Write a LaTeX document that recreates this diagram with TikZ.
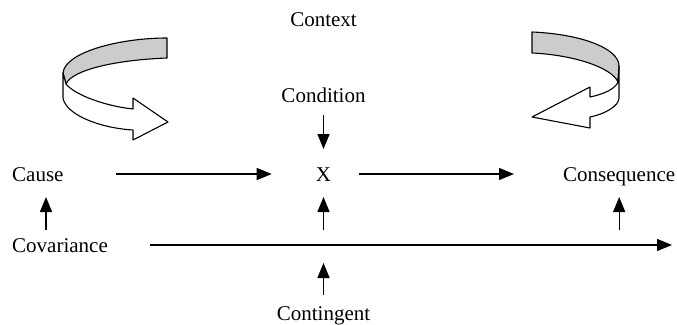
\documentclass[tikz,border=0pt]{standalone}
\usepackage{fontspec}
\setmainfont{Liberation Serif}
\usetikzlibrary{arrows.meta}
\definecolor{ribbon}{RGB}{204,204,204}
\begin{document}
\begin{tikzpicture}[x=1pt,y=-1pt,
  lbl/.style={font=\fontsize{21}{25}\selectfont, inner sep=0pt, anchor=base, text height=14pt, text depth=0pt},
  arr/.style={line width=1.3pt, -{Triangle[length=15pt,width=12pt]}},
  rib/.style={line width=1.1pt, line join=round}]
\useasboundingbox (0,0) rectangle (677,324);

% left curled arrow
\filldraw[rib, fill=ribbon] (167,38) -- (167,58) .. controls (115,60) and (72,70) .. (66,84) -- (63,73) .. controls (65,52) and (120,38) .. (167,38) -- cycle;
\filldraw[rib, fill=white] (66,84) .. controls (75,95) and (105,106) .. (133,109) -- (133,98) -- (168,122) -- (133,140) -- (133,130) .. controls (100,128) and (66,115) .. (63,98) -- (63,73) -- cycle;

% right curled arrow
\filldraw[rib, fill=ribbon] (532,32) -- (532,53) .. controls (575,55) and (612,68) .. (618,82) -- (619,66) .. controls (619,48) and (580,34) .. (532,32) -- cycle;
\filldraw[rib, fill=white] (618,82) .. controls (615,90) and (600,95) .. (590,97) -- (590,87) -- (532,117) -- (590,128) -- (590,117) .. controls (605,114) and (619,106) .. (619,98) -- (619,66) -- cycle;

% labels
\node[lbl] (ctx) at (323.5,27) {Context};
\node[lbl] (cond) at (323.5,102) {Condition};
\node[lbl] (X) at (323.5,181) {X};
\node[lbl,anchor=base west] (cause) at (12,181) {Cause};
\node[lbl,anchor=base west] (cons) at (563,181) {Consequence};
\node[lbl,anchor=base west] (cov) at (12,252) {Covariance};
\node[lbl] (cont) at (323.5,320) {Contingent};
\coordinate (lend) at (672,244);
\coordinate (stub) at (46,230);

% connectors
\draw[arr, shorten <=52pt, shorten >=44pt] (cause.east) -- (X.west);
\draw[arr, shorten <=28pt, shorten >=49pt] (X.east) -- (cons.west);
\draw[arr, shorten <=13pt, shorten >=32pt] (cond.base) -- (X.base);
\draw[arr, shorten >=16pt] (stub) -- (cause.base -| stub);
\draw[arr, shorten >=16pt] (X.base |- stub) -- (X.base);
\draw[arr, shorten >=16pt] (cons.base |- stub) -- (cons.base);
\draw[arr, shorten <=42pt] (cov.east) -- (cov.east -| lend);
\draw[arr, shorten <=25pt, shorten >=19pt] (cont.base) -- (cont.base |- lend);
\end{tikzpicture}
\end{document}
